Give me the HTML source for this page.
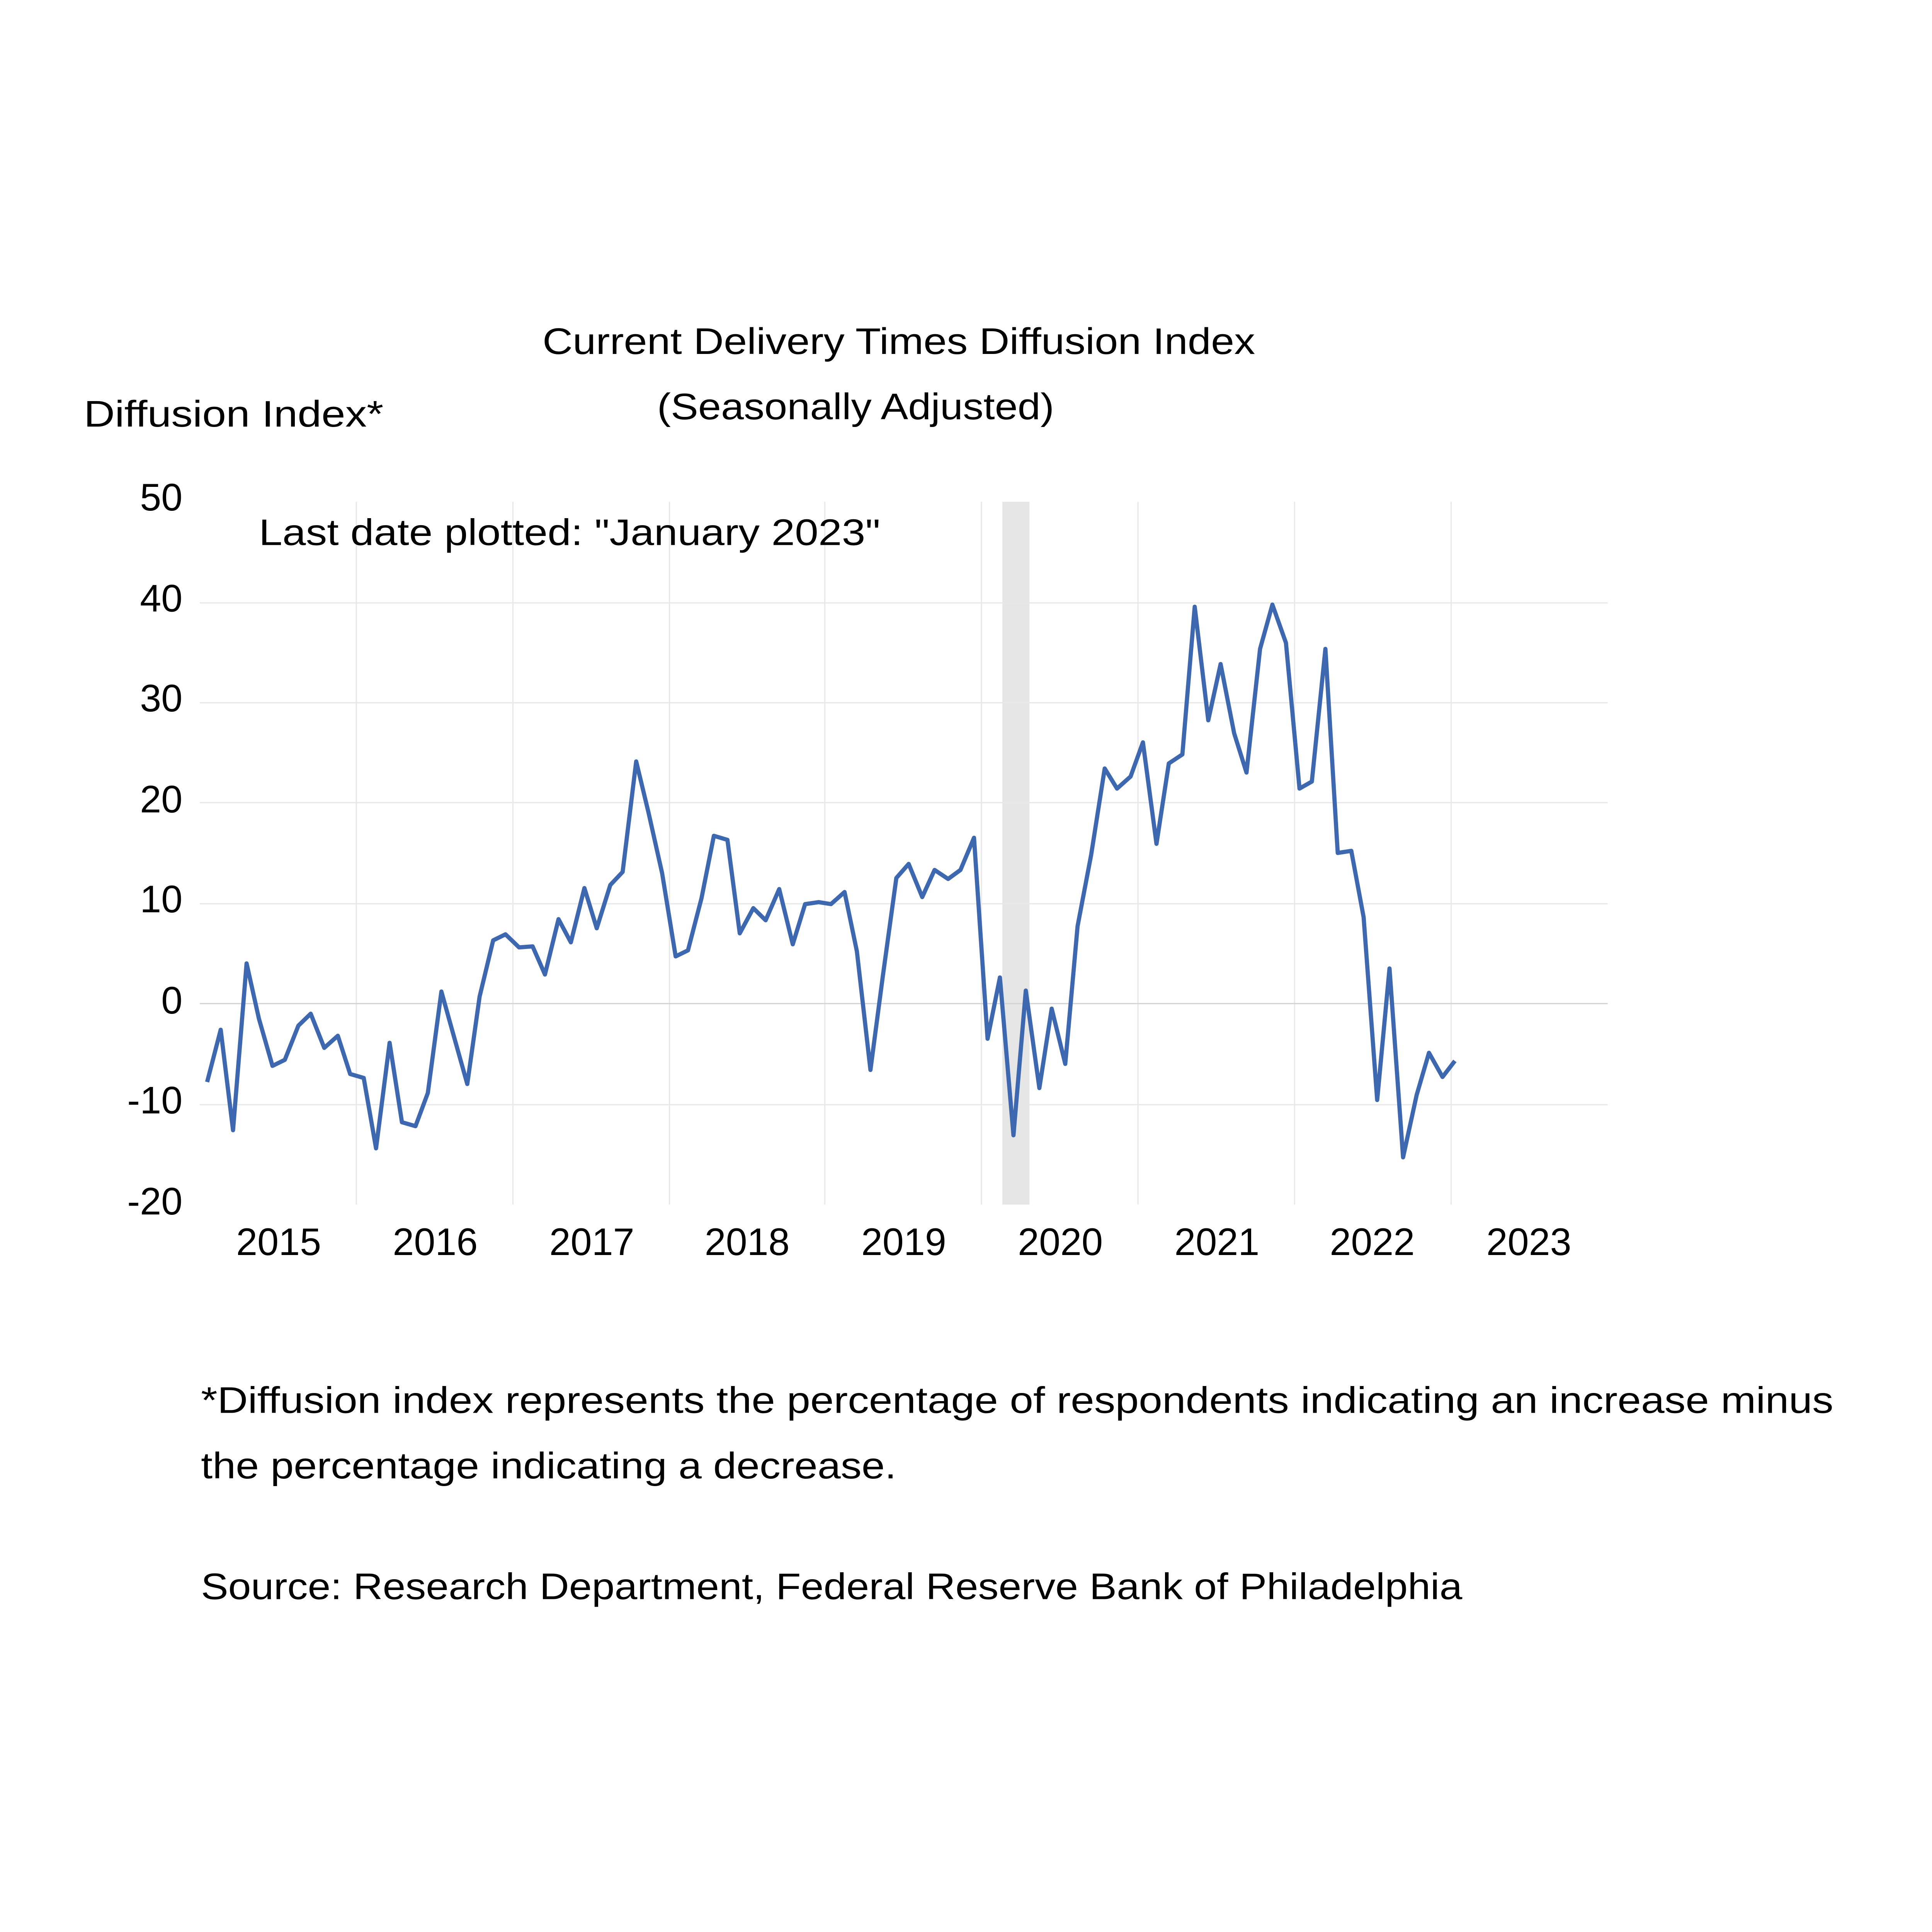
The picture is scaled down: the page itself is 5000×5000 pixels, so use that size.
<!DOCTYPE html>
<html><head><meta charset="utf-8"><style>html,body{margin:0;padding:0;background:#fff}svg{display:block}</style></head>
<body>
<svg width="5000" height="5000" viewBox="0 0 1567 1567" xmlns="http://www.w3.org/2000/svg" font-family="'Liberation Sans', sans-serif" fill="#000">
<rect width="1567" height="1567" fill="#fff"/>
<rect x="813" y="407" width="22" height="570" fill="#e6e6e6"/>
<g stroke="#e8e8e8" stroke-width="1">
<line x1="162" y1="489" x2="1304" y2="489"/>
<line x1="162" y1="570" x2="1304" y2="570"/>
<line x1="162" y1="651" x2="1304" y2="651"/>
<line x1="162" y1="733" x2="1304" y2="733"/>
<line x1="162" y1="896" x2="1304" y2="896"/>
<line x1="289" y1="407" x2="289" y2="977"/>
<line x1="416" y1="407" x2="416" y2="977"/>
<line x1="543" y1="407" x2="543" y2="977"/>
<line x1="669" y1="407" x2="669" y2="977"/>
<line x1="796" y1="407" x2="796" y2="977"/>
<line x1="923" y1="407" x2="923" y2="977"/>
<line x1="1050" y1="407" x2="1050" y2="977"/>
<line x1="1177" y1="407" x2="1177" y2="977"/>
</g>
<line x1="162" y1="814" x2="1304" y2="814" stroke="#d4d4d4" stroke-width="1"/>
<polyline fill="none" stroke="#3d68b0" stroke-width="3.4" stroke-linejoin="round" points="
168,877.6 179,835.2 189,916.7 200,781.4 210,826.2 221,864.5 231,859.6 242,831.9 252,822.2 263,849.9 274,840.1 284,871.1
295,874.3 305,931.4 316,845.8 326,910.2 337,913.4 347,886.5 358,804.2 368,840.1 379,879.2 389,808.3 400,762.7 410,757.8
421,768.4 432,767.6 442,790.4 453,745.5 463,764.3 474,720.3 484,752.9 495,717.8 505,707.2 516,617.6 526,659.1 537,708.1
548,775.7 558,770.8 569,728.4 579,677.9 590,681.2 600,757.0 611,736.6 621,746.4 632,721.1 643,765.9 653,733.3 664,731.7
674,733.3 685,723.5 695,771.6 706,867.8 716,792.0 727,712.1 737,700.7 748,727.6 758,705.6 769,712.9 779,705.6 790,679.5
801,842.5 811,792.8 822,920.8 832,803.4 843,882.5 853,818.1 864,862.9 874,751.2 885,693.4 896,623.3 906,639.6 917,629.8
927,602.1 938,684.4 948,619.2 959,611.9 969,492.1 980,584.2 990,538.6 1001,594.8 1011,626.6 1022,526.3 1032,490.4 1043,521.4
1054,639.6 1064,633.9 1075,526.3 1085,691.8 1096,690.1 1106,743.9 1117,892.2 1127,785.5 1138,938.7 1149,888.2 1159,853.9 1170,873.5
1180,860.5"/>
<g font-size="31" text-anchor="end">
<text x="148" y="414">50</text>
<text x="148" y="496">40</text>
<text x="148" y="577">30</text>
<text x="148" y="659">20</text>
<text x="148" y="740">10</text>
<text x="148" y="822">0</text>
<text x="148" y="903">-10</text>
<text x="148" y="985">-20</text>
</g>
<g font-size="31" text-anchor="middle">
<text x="226" y="1018">2015</text>
<text x="353" y="1018">2016</text>
<text x="480" y="1018">2017</text>
<text x="606" y="1018">2018</text>
<text x="733" y="1018">2019</text>
<text x="860" y="1018">2020</text>
<text x="987" y="1018">2021</text>
<text x="1113" y="1018">2022</text>
<text x="1240" y="1018">2023</text>
</g>
<g font-size="30">
<text x="440" y="287" textLength="578" lengthAdjust="spacingAndGlyphs">Current Delivery Times Diffusion Index</text>
<text x="533" y="340" textLength="322" lengthAdjust="spacingAndGlyphs">(Seasonally Adjusted)</text>
<text x="68" y="346" textLength="243" lengthAdjust="spacingAndGlyphs">Diffusion Index*</text>
<text x="210" y="442" textLength="504" lengthAdjust="spacingAndGlyphs">Last date plotted: "January 2023"</text>
<text x="163" y="1146" textLength="1324" lengthAdjust="spacingAndGlyphs">*Diffusion index represents the percentage of respondents indicating an increase minus</text>
<text x="163" y="1199" textLength="564" lengthAdjust="spacingAndGlyphs">the percentage indicating a decrease.</text>
<text x="163" y="1297" textLength="1023" lengthAdjust="spacingAndGlyphs">Source: Research Department, Federal Reserve Bank of Philadelphia</text>
</g>
</svg>
</body></html>
